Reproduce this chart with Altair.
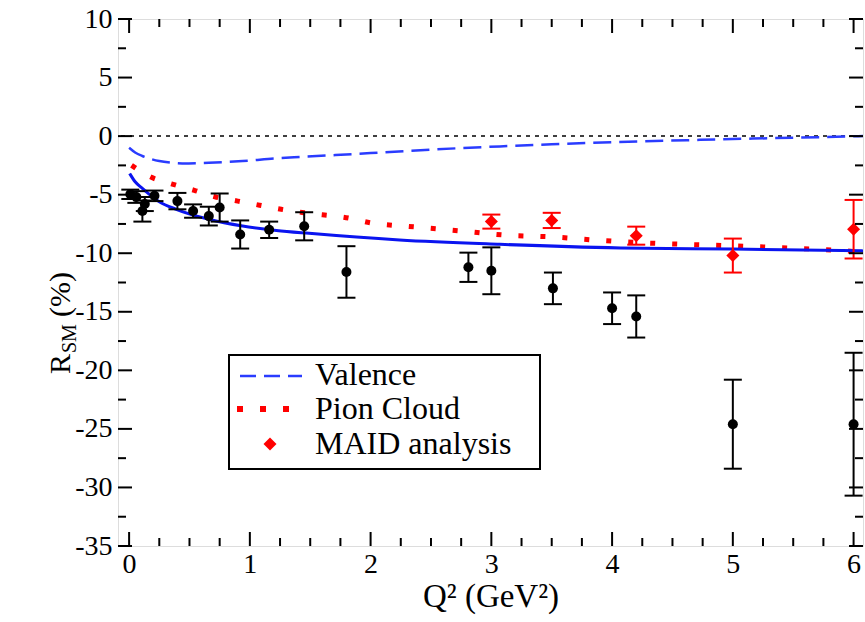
import altair as alt
import pandas as pd

# ---------------- data ----------------
black_q2 = [0.01, 0.06, 0.11, 0.13, 0.21, 0.40, 0.53, 0.66, 0.75, 0.92, 1.16, 1.45,
            1.80, 2.81, 3.00, 3.51, 4.00, 4.20, 5.00, 6.00]
black_r = [-4.97, -5.2, -6.4, -5.8, -5.1, -5.55, -6.4, -6.83, -6.1, -8.4, -8.0, -7.7,
           -11.6, -11.2, -11.5, -13.0, -14.7, -15.4, -24.6, -24.6]
black_err = [0.4, 0.5, 0.9, 0.6, 0.45, 0.7, 0.57, 0.8, 1.2, 1.2, 0.7, 1.2,
             2.2, 1.25, 2.0, 1.35, 1.35, 1.8, 3.8, 6.1]

maid_q2 = [3.0, 3.5, 4.2, 5.0, 6.0]
maid_r = [-7.3, -7.2, -8.5, -10.2, -7.95]
maid_err = [0.6, 0.65, 0.77, 1.45, 2.5]

valence_q2 = [0.0, 0.05, 0.11, 0.18, 0.25, 0.35, 0.44, 0.66, 0.94, 1.22, 1.44, 2.0,
              2.5, 3.07, 3.5, 4.0, 4.73, 5.3, 6.0, 6.078]
valence_r = [-1.0, -1.4, -1.7, -1.95, -2.13, -2.27, -2.33, -2.28, -2.13, -1.9, -1.77, -1.45,
             -1.15, -0.88, -0.7, -0.52, -0.32, -0.18, -0.02, 0.0]

pion_q2 = [0.02, 0.18, 0.35, 0.54, 0.71, 0.90, 1.08, 1.26, 1.45, 1.82, 2.0, 2.37, 2.75,
           3.11, 3.49, 3.85, 4.23, 4.6, 4.97, 5.34, 5.71, 6.0]
pion_r = [-2.5, -3.5, -4.07, -4.63, -5.18, -5.55, -5.9, -6.25, -6.54, -7.0, -7.4, -7.76, -8.1,
          -8.45, -8.6, -8.87, -9.1, -9.24, -9.36, -9.5, -9.67, -9.85]

total_q2 = [0.005, 0.05, 0.11, 0.25, 0.39, 0.66, 0.94, 1.22, 1.49, 2.24, 3.07, 4.07, 5.0, 6.078]
total_r = [-3.2, -3.9, -4.46, -5.6, -6.25, -7.1, -7.68, -8.05, -8.3, -8.87, -9.24, -9.55, -9.65, -9.8]

x_labels = [0, 1, 2, 3, 4, 5, 6]
x_minor = [0.25, 0.5, 0.75, 1.25, 1.5, 1.75, 2.25, 2.5, 2.75, 3.25, 3.5, 3.75,
           4.25, 4.5, 4.75, 5.25, 5.5, 5.75]
y_labels = [-35, -30, -25, -20, -15, -10, -5, 0, 5, 10]
y_minor = [-32.5, -27.5, -22.5, -17.5, -12.5, -7.5, -2.5, 2.5, 7.5]

legend_labels = ["Valence", "Pion Cloud", "MAID analysis"]

# ---------------- layout ----------------
W, H = 745, 527
FONT = "Liberation Serif"
BLUE = "#0a14f0"
BLUE_D = "#2a3cff"
RED = "#ff0000"

xscale = alt.Scale(domain=[-0.092, 6.078], nice=False, zero=False)
yscale = alt.Scale(domain=[-35, 10], nice=False, zero=False)

xaxis = alt.Axis(values=x_labels, ticks=False, domain=False, grid=False,
                 labelFont=FONT, labelFontSize=28, labelColor="black", labelPadding=4,
                 labelFlush=False, labelOverlap=False, labelExpr="'' + datum.value",
                 title="Q² (GeV²)", titleFont=FONT, titleFontSize=33,
                 titleFontWeight="normal", titleColor="black", titlePadding=2)
yaxis = alt.Axis(values=y_labels, ticks=False, domain=False, grid=False,
                 labelFont=FONT, labelFontSize=28, labelColor="black", labelPadding=6,
                 labelFlush=False, labelOverlap=False, labelExpr="'' + datum.value",
                 title=None)


def X(f):
    return alt.X(f, type="quantitative", scale=xscale, axis=xaxis)


def Y(f):
    return alt.Y(f, type="quantitative", scale=yscale, axis=yaxis)


black = pd.DataFrame({"q2": black_q2, "r": black_r, "e": black_err})
black["lo"] = black["r"] - black["e"]
black["hi"] = black["r"] + black["e"]
maid = pd.DataFrame({"q2": maid_q2, "r": maid_r, "e": maid_err})
maid["lo"] = maid["r"] - maid["e"]
maid["hi"] = maid["r"] + maid["e"]

val = pd.DataFrame({"q2": valence_q2, "r": valence_r})
pion = pd.DataFrame({"q2": pion_q2, "r": pion_r})
tot = pd.DataFrame({"q2": total_q2, "r": total_r})
zero = pd.DataFrame({"r": [0]})
one = pd.DataFrame({"k": [0]})

layers = []

# zero dotted line
layers.append(alt.Chart(zero).mark_rule(color="black", strokeWidth=1.5, strokeDash=[4, 5])
              .encode(y=Y("r")))

# curves
layers.append(alt.Chart(val).mark_line(color=BLUE_D, strokeWidth=2.5, strokeDash=[18, 8],
                                       interpolate="monotone", clip=True)
              .encode(x=X("q2"), y=Y("r")))
layers.append(alt.Chart(pion).mark_line(color=RED, strokeWidth=5, strokeDash=[5, 17],
                                        interpolate="monotone", clip=True)
              .encode(x=X("q2"), y=Y("r")))
layers.append(alt.Chart(tot).mark_line(color=BLUE, strokeWidth=3,
                                       interpolate="monotone", clip=True)
              .encode(x=X("q2"), y=Y("r")))

# error bars
for df, col in ((black, "black"), (maid, RED)):
    layers.append(alt.Chart(df).mark_rule(color=col, strokeWidth=2)
                  .encode(x=X("q2"), y=Y("lo"), y2=alt.Y2("hi")))
    for f in ("lo", "hi"):
        layers.append(alt.Chart(df).mark_tick(color=col, orient="horizontal", size=18,
                                              thickness=2, opacity=1)
                      .encode(x=X("q2"), y=Y(f)))

layers.append(alt.Chart(black).mark_point(shape="circle", filled=True, size=100,
                                          color="black", opacity=1)
              .encode(x=X("q2"), y=Y("r")))
layers.append(alt.Chart(maid).mark_point(shape="diamond", filled=True, size=170,
                                         color=RED, opacity=1)
              .encode(x=X("q2"), y=Y("r")))

# inward frame ticks
xmaj = pd.DataFrame({"v": x_labels})
xmin = pd.DataFrame({"v": x_minor})
ymaj = pd.DataFrame({"v": y_labels})
ymin = pd.DataFrame({"v": y_minor})
MAJ, MIN = 14, 8
for df, L in ((xmaj, MAJ), (xmin, MIN)):
    for yv in (L / 2, H - L / 2):
        layers.append(alt.Chart(df).mark_tick(color="black", orient="vertical", size=L,
                                              thickness=2, opacity=1)
                      .encode(x=X("v"), y=alt.value(yv)))
for df, L in ((ymaj, MAJ), (ymin, MIN)):
    for xv in (L / 2, W - L / 2):
        layers.append(alt.Chart(df).mark_tick(color="black", orient="horizontal", size=L,
                                              thickness=2, opacity=1)
                      .encode(y=Y("v"), x=alt.value(xv)))

# legend box
layers.append(alt.Chart(one).mark_rect(fill="white", stroke="black", strokeWidth=2)
              .encode(x=alt.value(111), x2=alt.value(422), y=alt.value(336), y2=alt.value(450)))
layers.append(alt.Chart(one).mark_rule(color=BLUE_D, strokeWidth=2.5, strokeDash=[16, 8])
              .encode(x=alt.value(122), x2=alt.value(184), y=alt.value(357)))
layers.append(alt.Chart(one).mark_rule(color=RED, strokeWidth=6, strokeDash=[6, 17])
              .encode(x=alt.value(119), x2=alt.value(175), y=alt.value(390)))
layers.append(alt.Chart(one).mark_point(shape="diamond", filled=True, size=170,
                                        color=RED, opacity=1)
              .encode(x=alt.value(152), y=alt.value(425)))
for lab, yy in zip(legend_labels, (356, 390, 425)):
    layers.append(alt.Chart(one).mark_text(font=FONT, fontSize=32, align="left",
                                           baseline="middle", color="black")
                  .encode(x=alt.value(197), y=alt.value(yy), text=alt.value(lab)))

# y title R_SM (%)
layers.append(alt.Chart(one).mark_text(font=FONT, fontSize=30, angle=270, align="left",
                                       baseline="alphabetic", color="black")
              .encode(x=alt.value(-48), y=alt.value(355), text=alt.value("R")))
layers.append(alt.Chart(one).mark_text(font=FONT, fontSize=20, angle=270, align="left",
                                       baseline="alphabetic", color="black")
              .encode(x=alt.value(-42), y=alt.value(334), text=alt.value("SM")))
layers.append(alt.Chart(one).mark_text(font=FONT, fontSize=30, angle=270, align="left",
                                       baseline="alphabetic", color="black")
              .encode(x=alt.value(-48), y=alt.value(298), text=alt.value("(%)")))

chart = (alt.layer(*layers)
         .properties(width=W, height=H,
                     autosize=alt.AutoSizeParams(type="none"),
                     padding={"left": 118, "top": 19, "right": 2, "bottom": 76})
         .configure_view(stroke="black", strokeWidth=2)
         .configure(background="white"))

chart.save("out.html", embed_options={"renderer": "svg", "actions": False})
